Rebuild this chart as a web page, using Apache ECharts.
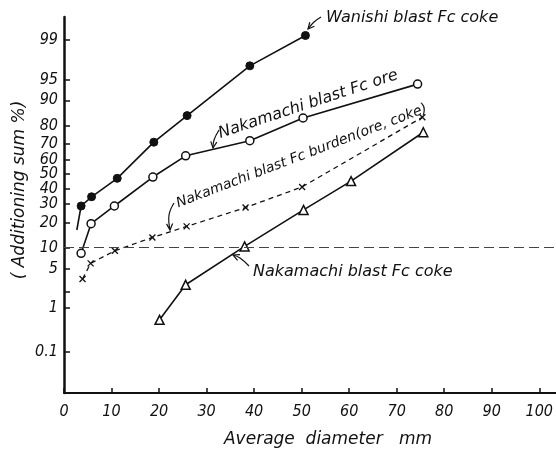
<!DOCTYPE html>
<html>
<head>
<meta charset="utf-8">
<script src="https://cdn.jsdelivr.net/npm/echarts@6/dist/echarts.min.js"></script>
<style>
html,body{margin:0;padding:0;background:#fff;}
#c{width:556px;height:455px;}
</style>
</head>
<body>
<div id="c"></div>
<script>
// ---- data (x: average diameter mm, y: additioning sum %) ----
const wanishiX = [2.7, 3.6, 5.8, 11.2, 18.9, 25.9, 39.1, 50.8];
const wanishiY = [16.5, 28.9, 34.6, 47.0, 71.0, 84.5, 97.0, 99.2];
const oreX = [3.6, 5.7, 10.6, 18.7, 25.6, 39.1, 50.3, 74.4];
const oreY = [8.4, 19.4, 28.9, 47.9, 62.4, 71.9, 83.5, 94.1];
const burdenX = [3.9, 5.6, 10.7, 18.6, 25.8, 38.2, 50.1, 75.4];
const burdenY = [3.4, 6.0, 9.1, 13.5, 18.1, 28.0, 41.1, 83.8];
const cokeX = [20.1, 25.6, 38.0, 50.4, 60.4, 75.6];
const cokeY = [0.56, 2.7, 10.4, 26.6, 45.1, 76.6];
const yTickPct = [0.1, 1, 2, 5, 10, 20, 30, 40, 50, 60, 70, 80, 90, 95, 99];
const yLabelPct = [0.1, 1, 5, 10, 20, 30, 40, 50, 60, 70, 80, 90, 95, 99];
const xTicks = [0, 10, 20, 30, 40, 50, 60, 70, 80, 90, 100];
const refLinePct = 10;

// inverse normal CDF (probability-paper scale)
function probit(p) {
  const a=[-3.969683028665376e+01,2.209460984245205e+02,-2.759285104469687e+02,1.383577518672690e+02,-3.066479806614716e+01,2.506628277459239e+00];
  const b=[-5.447609879822406e+01,1.615858368580409e+02,-1.556989798598866e+02,6.680131188771972e+01,-1.328068155288572e+01];
  const c=[-7.784894002430293e-03,-3.223964580411365e-01,-2.400758277161838e+00,-2.549732539343734e+00,4.374664141464968e+00,2.938163982698783e+00];
  const d=[7.784695709041462e-03,3.224671290700398e-01,2.445134137142996e+00,3.754408661907416e+00];
  const pl=0.02425, ph=1-pl;
  if (p<pl){const q=Math.sqrt(-2*Math.log(p));return (((((c[0]*q+c[1])*q+c[2])*q+c[3])*q+c[4])*q+c[5])/((((d[0]*q+d[1])*q+d[2])*q+d[3])*q+1);}
  if (p<=ph){const q=p-0.5,r=q*q;return (((((a[0]*r+a[1])*r+a[2])*r+a[3])*r+a[4])*r+a[5])*q/(((((b[0]*r+b[1])*r+b[2])*r+b[3])*r+b[4])*r+1);}
  const q=Math.sqrt(-2*Math.log(1-p));return -(((((c[0]*q+c[1])*q+c[2])*q+c[3])*q+c[4])*q+c[5])/((((d[0]*q+d[1])*q+d[2])*q+d[3])*q+1);
}
const pz = v => probit(v/100);
function pairs(xs, ys){ return xs.map((x,i)=>[x, pz(ys[i])]); }

const TICKFONT = "'DejaVu Sans Condensed','Liberation Sans Narrow','DejaVu Sans',sans-serif";
const FONT = "'DejaVu Sans',sans-serif";
const ink = '#111';

const wanishiData = pairs(wanishiX, wanishiY).map((v,i)=> i===0 ? {value:v, symbol:'none'} : v);

function arrow(points, head) {
  const n = points.length;
  const [x1,y1] = points[n-2], [x2,y2] = points[n-1];
  const ang = Math.atan2(y2-y1, x2-x1);
  const L = head || 7, W = 0.45;
  const h1 = [x2 - L*Math.cos(ang-W), y2 - L*Math.sin(ang-W)];
  const h2 = [x2 - L*Math.cos(ang+W), y2 - L*Math.sin(ang+W)];
  return [
    {type:'polyline', shape:{points, smooth:0.4}, style:{stroke:ink, lineWidth:1.2, fill:null}, z:10},
    {type:'polyline', shape:{points:[h1,[x2,y2],h2]}, style:{stroke:ink, lineWidth:1.2, fill:null}, z:10}
  ];
}
function txt(x, y, s, rot, size) {
  return {type:'text', x, y, rotation: rot ? rot*Math.PI/180 : 0, z:10,
    style:{text:s, fill:ink, font:'italic '+(size||16)+'px '+FONT, textVerticalAlign:'middle'}};
}

const chart = echarts.init(document.getElementById('c'), null, {renderer:'canvas'});
chart.setOption({
  animation:false,
  backgroundColor:'#fff',
  grid:{left:64, right:0, top:17, bottom:62},
  xAxis:{
    type:'value', min:0, max:103.4,
    axisLine:{onZero:false, lineStyle:{color:ink, width:2}},
    axisTick:{inside:true, length:5, lineStyle:{color:ink, width:1.5}, customValues:xTicks},
    axisLabel:{customValues:xTicks, color:ink, fontStyle:'italic', fontFamily:TICKFONT, fontSize:16, margin:11},
    splitLine:{show:false}
  },
  yAxis:{
    type:'value', min:-3.8087, max:2.7304,
    axisLine:{onZero:false, lineStyle:{color:ink, width:2.5}},
    axisTick:{inside:true, length:6, lineStyle:{color:ink, width:1.5}, customValues:yTickPct.map(pz)},
    axisLabel:{customValues:yLabelPct.map(pz), color:ink, fontStyle:'italic', fontFamily:TICKFONT, fontSize:16, margin:6,
      formatter: v => { let best=yLabelPct[0], bd=1e9; yLabelPct.forEach(p=>{const d=Math.abs(pz(p)-v); if(d<bd){bd=d;best=p;}}); return String(best); }},
    splitLine:{show:false}
  },
  series:[
    {name:'Wanishi blast Fc coke', type:'line', data:wanishiData, symbol:'circle', symbolSize:8,
      lineStyle:{color:ink, width:1.6}, itemStyle:{color:ink, borderColor:ink, borderWidth:1}},
    {name:'Nakamachi blast Fc ore', type:'line', data:pairs(oreX, oreY), symbol:'circle', symbolSize:8,
      lineStyle:{color:ink, width:1.6}, itemStyle:{color:'#fff', borderColor:ink, borderWidth:1.5}},
    {name:'Nakamachi blast Fc burden (ore, coke)', type:'line', data:pairs(burdenX, burdenY),
      symbol:'path://M0,0L10,10M10,0L0,10', symbolSize:6,
      lineStyle:{color:ink, width:1.3, type:[5,4]}, itemStyle:{color:'none', borderColor:ink, borderWidth:1.3},
      markLine:{silent:true, symbol:'none', label:{show:false},
        lineStyle:{color:'#444', width:1, type:[10,5]},
        data:[{yAxis:pz(refLinePct)}]}},
    {name:'Nakamachi blast Fc coke', type:'line', data:pairs(cokeX, cokeY), symbol:'triangle', symbolSize:9,
      lineStyle:{color:ink, width:1.6}, itemStyle:{color:'#fff', borderColor:ink, borderWidth:1.5}}
  ],
  graphic:[
    txt(326, 18, 'Wanishi blast Fc coke'),
    ...arrow([[321,17],[314,22],[308,29]]),
    txt(219, 134, 'Nakamachi blast Fc ore', 18.4),
    ...arrow([[219,130],[214,140],[213,148]]),
    txt(177, 204, 'Nakamachi blast Fc burden(ore, coke)', 21, 14),
    ...arrow([[174,203],[169,215],[170,230]]),
    txt(253, 272, 'Nakamachi blast Fc coke'),
    ...arrow([[249,266],[240,258],[233,255]]),
    {type:'text', x:20, y:190, rotation:Math.PI/2, z:10,
      style:{text:'( Additioning sum %)', fill:ink, font:'italic 17px '+FONT, textAlign:'center', textVerticalAlign:'middle'}},
    {type:'text', x:328, y:440, z:10,
      style:{text:'Average  diameter   mm', fill:ink, font:'italic 17px '+FONT, textAlign:'center', textVerticalAlign:'middle'}}
  ]
});
</script>
</body>
</html>
